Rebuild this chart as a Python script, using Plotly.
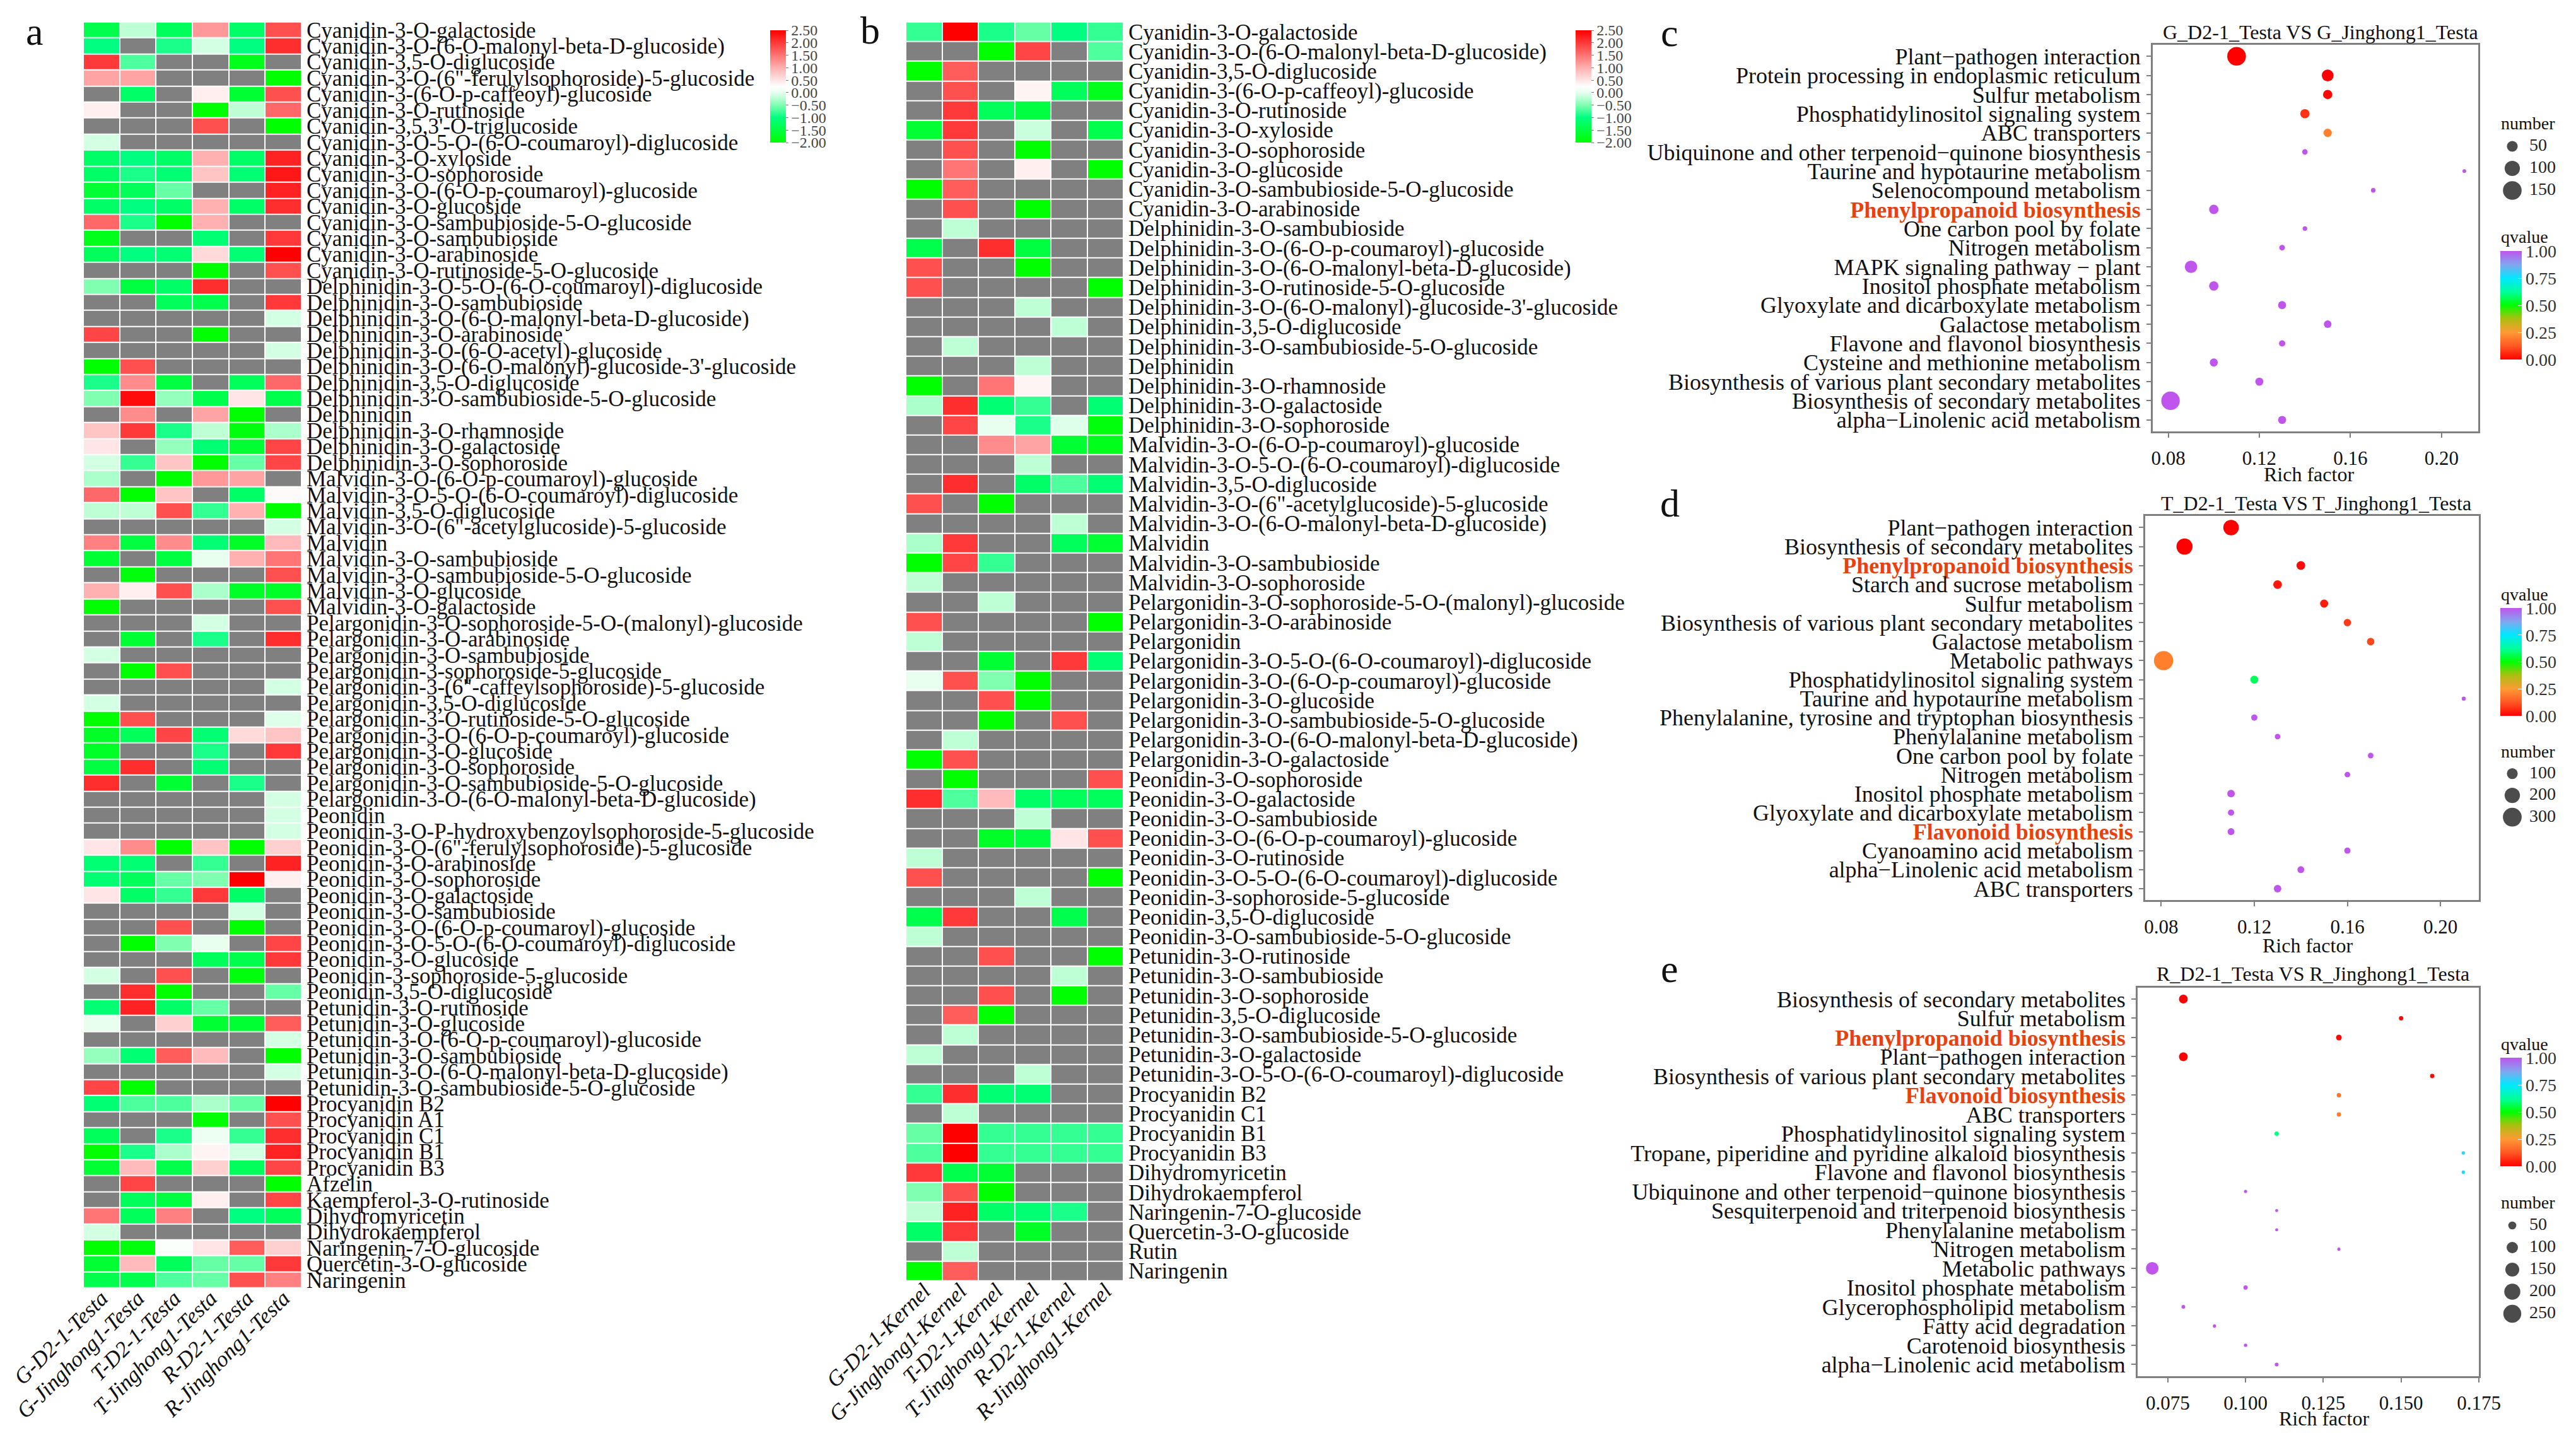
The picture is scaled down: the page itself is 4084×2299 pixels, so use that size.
import plotly.graph_objects as go

W, H = 4084, 2299
N = None

a_samples = ["G-D2-1-Testa", "G-Jinghong1-Testa", "T-D2-1-Testa", "T-Jinghong1-Testa", "R-D2-1-Testa", "R-Jinghong1-Testa"]
b_samples = ["G-D2-1-Kernel", "G-Jinghong1-Kernel", "T-D2-1-Kernel", "T-Jinghong1-Kernel", "R-D2-1-Kernel", "R-Jinghong1-Kernel"]

a_labels = [
    "Cyanidin-3-O-galactoside", "Cyanidin-3-O-(6-O-malonyl-beta-D-glucoside)", "Cyanidin-3,5-O-diglucoside",
    'Cyanidin-3-O-(6"-ferulylsophoroside)-5-glucoside', "Cyanidin-3-(6-O-p-caffeoyl)-glucoside", "Cyanidin-3-O-rutinoside",
    "Cyanidin-3,5,3'-O-triglucoside", "Cyanidin-3-O-5-O-(6-O-coumaroyl)-diglucoside", "Cyanidin-3-O-xyloside",
    "Cyanidin-3-O-sophoroside", "Cyanidin-3-O-(6-O-p-coumaroyl)-glucoside", "Cyanidin-3-O-glucoside",
    "Cyanidin-3-O-sambubioside-5-O-glucoside", "Cyanidin-3-O-sambubioside", "Cyanidin-3-O-arabinoside",
    "Cyanidin-3-O-rutinoside-5-O-glucoside", "Delphinidin-3-O-5-O-(6-O-coumaroyl)-diglucoside", "Delphinidin-3-O-sambubioside",
    "Delphinidin-3-O-(6-O-malonyl-beta-D-glucoside)", "Delphinidin-3-O-arabinoside", "Delphinidin-3-O-(6-O-acetyl)-glucoside",
    "Delphinidin-3-O-(6-O-malonyl)-glucoside-3'-glucoside", "Delphinidin-3,5-O-diglucoside", "Delphinidin-3-O-sambubioside-5-O-glucoside",
    "Delphinidin", "Delphinidin-3-O-rhamnoside", "Delphinidin-3-O-galactoside", "Delphinidin-3-O-sophoroside",
    "Malvidin-3-O-(6-O-p-coumaroyl)-glucoside", "Malvidin-3-O-5-O-(6-O-coumaroyl)-diglucoside", "Malvidin-3,5-O-diglucoside",
    'Malvidin-3-O-(6"-acetylglucoside)-5-glucoside', "Malvidin", "Malvidin-3-O-sambubioside",
    "Malvidin-3-O-sambubioside-5-O-glucoside", "Malvidin-3-O-glucoside", "Malvidin-3-O-galactoside",
    "Pelargonidin-3-O-sophoroside-5-O-(malonyl)-glucoside", "Pelargonidin-3-O-arabinoside", "Pelargonidin-3-O-sambubioside",
    "Pelargonidin-3-sophoroside-5-glucoside", 'Pelargonidin-3-(6"-caffeylsophoroside)-5-glucoside', "Pelargonidin-3,5-O-diglucoside",
    "Pelargonidin-3-O-rutinoside-5-O-glucoside", "Pelargonidin-3-O-(6-O-p-coumaroyl)-glucoside", "Pelargonidin-3-O-glucoside",
    "Pelargonidin-3-O-sophoroside", "Pelargonidin-3-O-sambubioside-5-O-glucoside", "Pelargonidin-3-O-(6-O-malonyl-beta-D-glucoside)",
    "Peonidin", "Peonidin-3-O-P-hydroxybenzoylsophoroside-5-glucoside", 'Peonidin-3-O-(6"-ferulylsophoroside)-5-glucoside',
    "Peonidin-3-O-arabinoside", "Peonidin-3-O-sophoroside", "Peonidin-3-O-galactoside", "Peonidin-3-O-sambubioside",
    "Peonidin-3-O-(6-O-p-coumaroyl)-glucoside", "Peonidin-3-O-5-O-(6-O-coumaroyl)-diglucoside", "Peonidin-3-O-glucoside",
    "Peonidin-3-sophoroside-5-glucoside", "Peonidin-3,5-O-diglucoside", "Petunidin-3-O-rutinoside", "Petunidin-3-O-glucoside",
    "Petunidin-3-O-(6-O-p-coumaroyl)-glucoside", "Petunidin-3-O-sambubioside", "Petunidin-3-O-(6-O-malonyl-beta-D-glucoside)",
    "Petunidin-3-O-sambubioside-5-O-glucoside", "Procyanidin B2", "Procyanidin A1", "Procyanidin C1", "Procyanidin B1",
    "Procyanidin B3", "Afzelin", "Kaempferol-3-O-rutinoside", "Dihydromyricetin", "Dihydrokaempferol",
    "Naringenin-7-O-glucoside", "Quercetin-3-O-glucoside", "Naringenin",
]

a_values = [
    [-1.4,-0.2,-1.3,1.2,-1.2,1.8], [-1.0,N,-0.9,-0.1,-1.0,2.1], [2.0,-0.7,N,N,-1.8,N], [1.1,1.1,N,N,N,-2],
    [N,-1.2,N,0.4,-1.6,1.8], [0.4,N,N,-2,-0.2,1.6], [N,N,N,1.8,N,-2], [-0.1,N,N,N,N,N],
    [-1.2,-1.0,-1.2,1.0,-1.2,2.2], [-1.2,-0.9,-1.1,0.8,-1.1,2.3], [-1.6,-1.3,-0.6,N,N,2.2], [-1.2,-1.0,-1.2,1.0,-1.2,2.1],
    [1.6,-0.9,-2,1.0,N,N], [-1.8,N,N,-1.1,N,2.0], [-1.3,-1.0,-1.1,0.6,-1.1,2.5], [N,N,N,-2,N,1.8],
    [-0.5,-1.5,-1.2,2.1,N,N], [N,N,-1.3,-1.4,N,2.0], [N,N,N,N,N,-0.1], [1.9,N,N,-2,N,N],
    [N,N,N,N,N,-0.1], [-2,1.8,N,N,N,N], [-0.9,1.3,-1.5,N,-1.3,1.6], [-0.5,2.4,-0.4,-1.4,0.5,-1.4],
    [N,1.3,N,1.1,-2,N], [0.8,2.0,-0.9,-0.2,-1.9,-0.3], [0.5,N,-0.4,-1.1,-1.6,1.9], [-0.1,-0.8,0.8,-2,-0.6,1.9],
    [-0.3,N,-2,1.2,1.1,N], [1.6,-2,0.8,N,-1.2,0.3], [-0.2,-0.2,1.8,-0.8,1.0,-2], [N,N,N,N,N,-0.1],
    [1.4,-1.5,1.3,-1.1,-1.7,0.9], [-1.6,N,-1.5,0.0,1.0,1.5], [N,-1.9,N,N,N,1.8], [1.0,0.4,1.8,-0.3,-1.7,-1.7],
    [-2,N,N,N,N,1.8], [N,N,N,-0.1,N,N], [N,-1.6,N,-0.9,N,2.1], [-0.1,N,N,N,N,N],
    [N,-2,1.8,N,N,N], [N,N,N,N,N,-0.1], [-0.1,N,N,N,N,N], [-2,1.8,N,N,N,-0.05],
    [-1.7,-1.3,1.9,-1.1,0.6,0.8], [-1.7,N,N,-0.9,N,2.0], [-1.5,2.1,N,-1.1,N,N], [2.1,N,-1.6,N,-0.9,N],
    [N,N,N,N,N,-0.1], [N,N,N,N,N,-0.1], [N,N,N,N,N,-0.1], [0.5,1.3,-2,0.8,-2,0.7],
    [-1.1,-1.1,N,-0.8,N,2.2], [-1.1,-1.3,-0.6,-0.5,2.5,0.4], [0.5,-1.2,-0.8,2.0,-1.2,N], [N,N,N,N,-0.1,N],
    [N,N,1.8,N,-2,N], [N,-2,-0.5,0.0,N,1.9], [N,N,N,-1.3,-1.4,2.0], [-0.1,N,1.8,N,-1.9,N],
    [N,2.1,-2,N,N,-0.6], [-1.1,2.2,-1.2,-0.6,N,N], [0.0,N,0.7,-1.6,-1.6,1.7], [N,N,N,N,N,-0.1],
    [-0.4,-1.1,1.7,0.9,N,-2], [N,N,N,N,N,-0.1], [1.9,-2,N,N,N,N], [-1.1,-0.7,-0.7,-0.3,-0.6,2.5],
    [N,N,N,-2,N,1.8], [-1.3,N,-0.9,0.05,-0.8,2.1], [-2,-0.9,-0.3,0.35,-0.1,2.2], [-1.6,0.9,-1.4,0.7,-1.3,1.9],
    [N,1.9,N,N,N,-2], [N,-1.3,-1.5,0.4,N,1.9], [1.5,-1.3,1.4,N,-1.0,-1.3], [-0.1,N,N,N,N,N],
    [-2,-1.9,0.2,0.5,1.7,0.7], [-1.6,0.9,-1.3,-0.6,-0.6,2.0], [-1.4,-1.4,-0.7,-0.6,1.8,1.4],
]

b_labels = [
    "Cyanidin-3-O-galactoside", "Cyanidin-3-O-(6-O-malonyl-beta-D-glucoside)", "Cyanidin-3,5-O-diglucoside",
    "Cyanidin-3-(6-O-p-caffeoyl)-glucoside", "Cyanidin-3-O-rutinoside", "Cyanidin-3-O-xyloside", "Cyanidin-3-O-sophoroside",
    "Cyanidin-3-O-glucoside", "Cyanidin-3-O-sambubioside-5-O-glucoside", "Cyanidin-3-O-arabinoside",
    "Delphinidin-3-O-sambubioside", "Delphinidin-3-O-(6-O-p-coumaroyl)-glucoside", "Delphinidin-3-O-(6-O-malonyl-beta-D-glucoside)",
    "Delphinidin-3-O-rutinoside-5-O-glucoside", "Delphinidin-3-O-(6-O-malonyl)-glucoside-3'-glucoside", "Delphinidin-3,5-O-diglucoside",
    "Delphinidin-3-O-sambubioside-5-O-glucoside", "Delphinidin", "Delphinidin-3-O-rhamnoside", "Delphinidin-3-O-galactoside",
    "Delphinidin-3-O-sophoroside", "Malvidin-3-O-(6-O-p-coumaroyl)-glucoside", "Malvidin-3-O-5-O-(6-O-coumaroyl)-diglucoside",
    "Malvidin-3,5-O-diglucoside", 'Malvidin-3-O-(6"-acetylglucoside)-5-glucoside', "Malvidin-3-O-(6-O-malonyl-beta-D-glucoside)",
    "Malvidin", "Malvidin-3-O-sambubioside", "Malvidin-3-O-sophoroside", "Pelargonidin-3-O-sophoroside-5-O-(malonyl)-glucoside",
    "Pelargonidin-3-O-arabinoside", "Pelargonidin", "Pelargonidin-3-O-5-O-(6-O-coumaroyl)-diglucoside",
    "Pelargonidin-3-O-(6-O-p-coumaroyl)-glucoside", "Pelargonidin-3-O-glucoside", "Pelargonidin-3-O-sambubioside-5-O-glucoside",
    "Pelargonidin-3-O-(6-O-malonyl-beta-D-glucoside)", "Pelargonidin-3-O-galactoside", "Peonidin-3-O-sophoroside",
    "Peonidin-3-O-galactoside", "Peonidin-3-O-sambubioside", "Peonidin-3-O-(6-O-p-coumaroyl)-glucoside", "Peonidin-3-O-rutinoside",
    "Peonidin-3-O-5-O-(6-O-coumaroyl)-diglucoside", "Peonidin-3-sophoroside-5-glucoside", "Peonidin-3,5-O-diglucoside",
    "Peonidin-3-O-sambubioside-5-O-glucoside", "Petunidin-3-O-rutinoside", "Petunidin-3-O-sambubioside", "Petunidin-3-O-sophoroside",
    "Petunidin-3,5-O-diglucoside", "Petunidin-3-O-sambubioside-5-O-glucoside", "Petunidin-3-O-galactoside",
    "Petunidin-3-O-5-O-(6-O-coumaroyl)-diglucoside", "Procyanidin B2", "Procyanidin C1", "Procyanidin B1", "Procyanidin B3",
    "Dihydromyricetin", "Dihydrokaempferol", "Naringenin-7-O-glucoside", "Quercetin-3-O-glucoside", "Rutin", "Naringenin",
]

b_values = [
    [-0.8,2.5,-0.9,-0.6,-1.0,-0.8], [N,N,-2,1.9,N,-0.7], [-2,1.7,N,N,N,N], [N,1.8,N,0.35,-1.3,-1.8],
    [N,2.0,-1.3,-1.5,N,N], [-1.6,2.0,N,-0.15,N,-1.4], [N,1.8,N,-2,N,N], [N,1.5,N,0.4,N,-2],
    [-2,1.7,N,N,N,N], [N,1.8,N,-2,N,N], [N,-0.2,N,N,N,N], [-1.4,N,2.1,-1.5,N,N],
    [1.8,N,N,-2,N,N], [1.8,N,N,N,N,-2], [N,N,N,-0.2,N,N], [N,N,N,N,-0.2,N],
    [N,-0.2,N,N,N,N], [N,N,N,-0.2,N,N], [-2,N,1.5,0.35,N,N], [-0.3,2.1,-1.1,-0.8,N,-1.1],
    [N,1.9,0.0,-0.9,-0.05,-1.9], [N,N,1.3,1.1,-1.6,-1.8], [N,N,N,-0.2,N,N], [N,2.1,N,-1.2,-0.7,-1.1],
    [1.8,N,-2,N,N,N], [N,N,N,N,-0.2,N], [-0.3,2.0,N,N,-1.3,-1.6], [-2,1.9,-0.8,N,N,N],
    [-0.2,N,N,N,N,N], [N,N,-0.2,N,N,N], [1.8,N,N,N,N,-2], [-0.2,N,N,N,N,N],
    [N,N,-1.6,N,2.0,-1.1], [0.0,1.8,-0.5,-2,N,N], [N,N,1.8,-2,N,N], [N,N,-2,N,1.8,N],
    [N,-0.2,N,N,N,N], [-2,1.8,N,N,N,N], [N,-2,N,N,N,1.8], [2.1,-0.7,0.9,-1.2,-1.3,-1.3],
    [N,N,N,-0.2,N,N], [N,N,-1.7,-1.5,0.5,1.8], [-0.2,N,N,N,N,N], [1.8,N,N,N,N,-2],
    [N,N,N,-0.2,N,N], [-1.4,2.0,N,N,-1.4,N], [-0.2,N,N,N,N,N], [N,N,1.8,N,N,-2],
    [N,N,N,N,-0.2,N], [N,N,1.8,N,-2,N], [N,1.7,-2,N,N,N], [N,-0.2,N,N,N,N],
    [-0.2,N,N,N,N,N], [N,N,N,-0.2,N,N], [-0.8,2.1,-1.1,-1.1,N,N], [N,-0.2,N,N,N,N],
    [-0.6,2.5,-0.8,-0.8,-0.8,-0.8], [-0.7,2.5,-0.8,-0.8,-0.8,-0.8], [2.0,-1.4,-1.6,N,N,N], [-0.5,1.8,-2,N,N,N],
    [-0.2,2.2,-1.2,-1.1,-0.9,N], [-1.2,2.0,N,-1.7,N,N], [N,-0.2,N,N,N,N], [-2,1.7,N,N,N,N],
]

c_terms = ["Plant−pathogen interaction", "Protein processing in endoplasmic reticulum", "Sulfur metabolism",
           "Phosphatidylinositol signaling system", "ABC transporters", "Ubiquinone and other terpenoid−quinone biosynthesis",
           "Taurine and hypotaurine metabolism", "Selenocompound metabolism", "Phenylpropanoid biosynthesis",
           "One carbon pool by folate", "Nitrogen metabolism", "MAPK signaling pathway − plant", "Inositol phosphate metabolism",
           "Glyoxylate and dicarboxylate metabolism", "Galactose metabolism", "Flavone and flavonol biosynthesis",
           "Cysteine and methionine metabolism", "Biosynthesis of various plant secondary metabolites",
           "Biosynthesis of secondary metabolites", "alpha−Linolenic acid metabolism"]
c_rich = [0.11, 0.15, 0.15, 0.14, 0.15, 0.14, 0.21, 0.17, 0.10, 0.14, 0.13, 0.09, 0.10, 0.13, 0.15, 0.13, 0.10, 0.12, 0.081, 0.13]
c_number = [150, 60, 37, 37, 30, 13, 6, 9, 38, 9, 14, 66, 38, 28, 25, 17, 28, 28, 147, 28]
c_q = [0.0, 0.0, 0.01, 0.07, 0.2, 1, 1, 1, 1, 1, 1, 1, 1, 1, 1, 1, 1, 1, 1, 1]
c_sizes = [50, 100, 150]

d_terms = ["Plant−pathogen interaction", "Biosynthesis of secondary metabolites", "Phenylpropanoid biosynthesis",
           "Starch and sucrose metabolism", "Sulfur metabolism", "Biosynthesis of various plant secondary metabolites",
           "Galactose metabolism", "Metabolic pathways", "Phosphatidylinositol signaling system",
           "Taurine and hypotaurine metabolism", "Phenylalanine, tyrosine and tryptophan biosynthesis", "Phenylalanine metabolism",
           "One carbon pool by folate", "Nitrogen metabolism", "Inositol phosphate metabolism",
           "Glyoxylate and dicarboxylate metabolism", "Flavonoid biosynthesis", "Cyanoamino acid metabolism",
           "alpha−Linolenic acid metabolism", "ABC transporters"]
d_rich = [0.11, 0.09, 0.14, 0.13, 0.15, 0.16, 0.17, 0.081, 0.12, 0.21, 0.12, 0.13, 0.17, 0.16, 0.11, 0.11, 0.11, 0.16, 0.14, 0.13]
d_number = [204, 220, 64, 64, 55, 47, 47, 314, 55, 14, 33, 27, 27, 27, 48, 33, 40, 33, 40, 48]
d_q = [0.0, 0.0, 0.01, 0.03, 0.04, 0.08, 0.1, 0.2, 0.57, 1, 1, 1, 1, 1, 1, 1, 1, 1, 1, 1]
d_sizes = [100, 200, 300]

e_terms = ["Biosynthesis of secondary metabolites", "Sulfur metabolism", "Phenylpropanoid biosynthesis",
           "Plant−pathogen interaction", "Biosynthesis of various plant secondary metabolites", "Flavonoid biosynthesis",
           "ABC transporters", "Phosphatidylinositol signaling system", "Tropane, piperidine and pyridine alkaloid biosynthesis",
           "Flavone and flavonol biosynthesis", "Ubiquinone and other terpenoid−quinone biosynthesis",
           "Sesquiterpenoid and triterpenoid biosynthesis", "Phenylalanine metabolism", "Nitrogen metabolism",
           "Metabolic pathways", "Inositol phosphate metabolism", "Glycerophospholipid metabolism", "Fatty acid degradation",
           "Carotenoid biosynthesis", "alpha−Linolenic acid metabolism"]
e_rich = [0.08, 0.15, 0.13, 0.08, 0.16, 0.13, 0.13, 0.11, 0.17, 0.17, 0.10, 0.11, 0.11, 0.13, 0.07, 0.10, 0.08, 0.09, 0.10, 0.11]
e_number = [60, 15, 25, 60, 15, 15, 15, 14, 9, 9, 8, 7, 7, 8, 123, 14, 11, 8, 9, 11]
e_q = [0.0, 0.01, 0.01, 0.0, 0.01, 0.18, 0.2, 0.6, 0.78, 0.78, 1, 1, 1, 1, 1, 1, 1, 1, 1, 1]
e_sizes = [50, 100, 150, 200, 250]

highlighted_terms = ["Phenylpropanoid biosynthesis", "Flavonoid biosynthesis"]

FONT = "Liberation Serif"
GRAY = "#808080"
LINE = "#7f7f7f"
RED = "#e8410e"


def hx(x0, x1):
    return [x0 / W, x1 / W]


def vy(y0, y1):
    return [1 - y1 / H, 1 - y0 / H]


heat_scale = [
    [0.0, "#00ff00"], [1 / 4.5, "#00ff80"], [1.5 / 4.5, "#80ffb0"], [2 / 4.5, "#e8fff0"],
    [2.25 / 4.5, "#ffffff"], [3 / 4.5, "#ffb0b0"], [3.8 / 4.5, "#ff5050"], [1.0, "#ff0000"],
]
q_scale = [
    [0.0, "#ff0000"], [0.12, "#ff5522"], [0.25, "#ff9a33"], [0.38, "#a8c010"], [0.5, "#00ff00"],
    [0.62, "#00ff99"], [0.75, "#00e8ff"], [0.87, "#7fa8f0"], [1.0, "#bf55ec"],
]

fig = go.Figure()
layout = dict(
    width=W, height=H, margin=dict(l=0, r=0, t=0, b=0, pad=0, autoexpand=False), paper_bgcolor="white", plot_bgcolor="white",
    font=dict(family=FONT, color="#111111", size=30), showlegend=False,
)
annotations = []


def note(text, x, y, size, xanchor="center"):
    annotations.append(dict(text=text, x=x / W, y=1 - y / H, xref="paper", yref="paper", showarrow=False,
                            xanchor=xanchor, yanchor="middle",
                            font=dict(family=FONT, size=size, color="#111111")))


def heatmap(idx, labels, samples, values, x0, x1, y0, y1, cbx):
    suf = str(idx)
    missing = [[1 if v is None else None for v in row] for row in values]
    fig.add_trace(go.Heatmap(z=missing, x=samples, y=labels, xaxis="x" + suf, yaxis="y" + suf, showscale=False,
                             colorscale=[[0, GRAY], [1, GRAY]], zmin=0, zmax=1, xgap=2, ygap=2, hoverinfo="skip"))
    fig.add_trace(go.Heatmap(z=values, x=samples, y=labels, xaxis="x" + suf, yaxis="y" + suf, colorscale=heat_scale,
                             zmin=-2, zmax=2.5, xgap=2, ygap=2,
                             colorbar=dict(x=cbx / W, xanchor="left", xpad=0, y=1 - 137 / H, yanchor="middle", ypad=0,
                                           len=178, lenmode="pixels", thickness=25, thicknessmode="pixels",
                                           tick0=-2, dtick=0.5, tickformat=".2f", ticks="outside", ticklen=4,
                                           tickcolor=LINE, outlinewidth=0,
                                           tickfont=dict(family=FONT, size=24, color="#444444"))))
    layout["xaxis" + suf] = dict(domain=hx(x0, x1), anchor="y" + suf, tickmode="array", tickvals=samples,
                                 ticktext=[f"<i>{s}</i>" for s in samples], tickangle=-45, ticks="", showgrid=False,
                                 zeroline=False, showline=False, tickfont=dict(family=FONT, size=35), ticklabelstandoff=-12)
    layout["yaxis" + suf] = dict(domain=vy(y0, y1), anchor="x" + suf, side="right", autorange="reversed", tickmode="array",
                                 tickvals=labels, ticktext=labels, ticks="", showgrid=False, zeroline=False, showline=False,
                                 tickfont=dict(family=FONT, size=35), ticklabelstandoff=7)


def bubble(idx, terms, rich, number, q, xrange, xticks, xfmt, k, x0, x1, y0, y1, cb_y0, cb_y1):
    suf = str(idx)
    fig.add_trace(go.Scatter(x=rich, y=terms, xaxis="x" + suf, yaxis="y" + suf, mode="markers",
                             marker=dict(size=number, sizemode="area", sizeref=2 / k ** 2, sizemin=1, color=q,
                                         coloraxis=f"coloraxis{idx}", line=dict(width=0), opacity=1)))
    layout[f"coloraxis{idx}"] = dict(
        cmin=0, cmax=1, colorscale=q_scale,
        colorbar=dict(x=3964 / W, xanchor="left", xpad=0, y=1 - (cb_y0 + cb_y1) / 2 / H, yanchor="middle", ypad=0,
                      len=cb_y1 - cb_y0, lenmode="pixels", thickness=34, thicknessmode="pixels",
                      tick0=0, dtick=0.25, tickformat=".2f", ticks="inside", ticklen=6, tickcolor="white",
                      outlinewidth=0, tickfont=dict(family=FONT, size=28, color="#333333")))
    ticktext = [f'<b><span style="color:{RED}">{t}</span></b>' if t in highlighted_terms else t for t in terms]
    layout["xaxis" + suf] = dict(domain=hx(x0, x1), anchor="y" + suf, range=xrange, tickmode="array", tickvals=xticks,
                                 ticktext=[format(t, xfmt) for t in xticks], ticks="outside", ticklen=7, tickcolor=LINE,
                                 tickwidth=2, showgrid=False, zeroline=False, showline=True, linecolor=LINE, linewidth=3,
                                 mirror=True, tickfont=dict(family=FONT, size=31), ticklabelstandoff=6)
    layout["yaxis" + suf] = dict(domain=vy(y0, y1), anchor="x" + suf, range=[19.6, -0.6], type="category",
                                 categoryorder="array", categoryarray=terms, tickmode="array", tickvals=terms,
                                 ticktext=ticktext, ticks="outside", ticklen=7, tickcolor=LINE, tickwidth=2,
                                 showgrid=False, zeroline=False, showline=True, linecolor=LINE, linewidth=3, mirror=True,
                                 tickfont=dict(family=FONT, size=36), ticklabelstandoff=2)


def size_legend(idx, sizes, k, first_y, spacing):
    suf = str(idx)
    names = [str(s) for s in sizes]
    fig.add_trace(go.Scatter(x=[0] * len(sizes), y=names, xaxis="x" + suf, yaxis="y" + suf, mode="markers",
                             marker=dict(size=sizes, sizemode="area", sizeref=2 / k ** 2, color="black", line=dict(width=0))))
    fig.add_trace(go.Scatter(x=[27] * len(sizes), y=names, xaxis="x" + suf, yaxis="y" + suf, mode="text", text=names,
                             textposition="middle right", textfont=dict(family=FONT, size=28, color="#222222")))
    n = len(sizes)
    layout["xaxis" + suf] = dict(domain=hx(3963, 4084), anchor="y" + suf, range=[-20, 101], visible=False)
    layout["yaxis" + suf] = dict(domain=vy(first_y - spacing / 2, first_y + spacing * (n - 0.5)), anchor="x" + suf,
                                 type="category", categoryorder="array", categoryarray=names,
                                 range=[n - 0.5, -0.5], visible=False)


heatmap(1, a_labels, a_samples, a_values, 132, 478, 34.7, 2042, 1221)
heatmap(2, b_labels, b_samples, b_values, 1436, 1781, 34.7, 2030.6, 2498)

t3 = [0.08, 0.12, 0.16, 0.20]
bubble(3, c_terms, c_rich, c_number, c_q, [0.0732, 0.2161], t3, ".2f", 2.42, 3413, 3929, 71, 684, 398, 570)
bubble(4, d_terms, d_rich, d_number, d_q, [0.0731, 0.2165], t3, ".2f", 1.72, 3401, 3930, 818.4, 1427, 964, 1135)
bubble(5, e_terms, e_rich, e_number, e_q, [0.0653, 0.175], [0.075, 0.10, 0.125, 0.15, 0.175], ".3f", 1.8,
       3389, 3930, 1565.7, 2181.7, 1677, 1849)
size_legend(6, c_sizes, 2.42, 232, 35)
size_legend(7, d_sizes, 1.72, 1226.6, 34.5)
size_legend(8, e_sizes, 1.8, 1943, 35)

note("a", 55, 50, 62)
note("b", 1379, 48, 62)
note("c", 2647, 52, 62)
note("d", 2647, 798, 62)
note("e", 2647, 1536, 62)

note("G_D2-1_Testa VS G_Jinghong1_Testa", 3679, 51, 32)
note("T_D2-1_Testa VS T_Jinghong1_Testa", 3672, 798, 32)
note("R_D2-1_Testa VS R_Jinghong1_Testa", 3667, 1544, 32)
note("Rich factor", 3660, 752, 32)
note("Rich factor", 3658, 1499, 32)
note("Rich factor", 3684, 2249, 32)
for y in (196, 1191, 1906):
    note("number", 3963, y, 28, xanchor="left")
for y in (376, 942, 1655):
    note("qvalue", 3963, y, 28, xanchor="left")

layout["annotations"] = annotations
fig.update_layout(**layout)
fig.write_html("out.html", post_script="document.body.style.margin='0';document.body.style.overflow='hidden';",
               config={"displayModeBar": False})
